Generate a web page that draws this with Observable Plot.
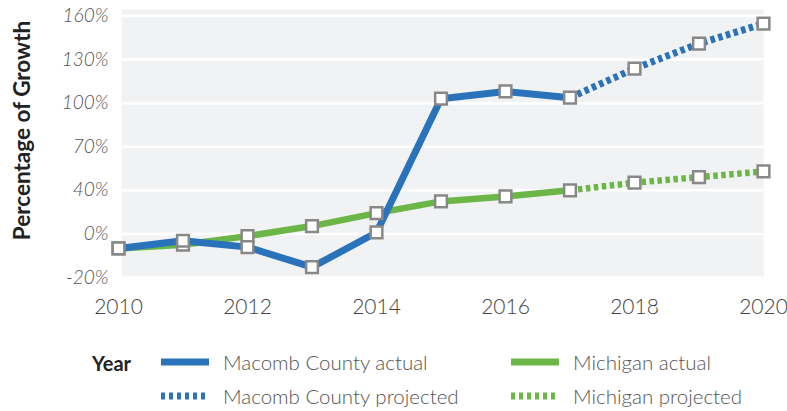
<!DOCTYPE html>
<html>
<head>
<meta charset="utf-8">
<script src="https://cdn.jsdelivr.net/npm/d3@7"></script>
<script src="https://cdn.jsdelivr.net/npm/@observablehq/plot@0.6"></script>
<style>
  html, body { margin: 0; padding: 0; background: #fff; }
  #wrap { position: relative; width: 787px; height: 411px; font-family: Lato, "Noto Sans", sans-serif; }
  #chart svg { display: block; }
  .lg { position: absolute; font-size: 20.5px; line-height: 20px; color: #555; font-weight: 300; white-space: nowrap; }
  .lg-title { position: absolute; font-size: 20px; line-height: 20px; color: #222; font-weight: 700; }
  .sw { position: absolute; }
</style>
</head>
<body>
<div id="wrap">
  <div id="chart"></div>
  <div id="legend"></div>
</div>
<script>
const years = [2010, 2011, 2012, 2013, 2014, 2015, 2016, 2017, 2018, 2019, 2020];
const macomb = [0, 5.3, 0.9, -12.9, 11, 103.1, 108.1, 103.8, 123.8, 141, 154.8];
const michigan = [0, 2.6, 8.5, 15.4, 24.3, 32.4, 35.8, 40, 45.3, 49.1, 53];
const lastActualYear = 2017;
const yTickValues = [-20, 10, 40, 70, 100, 130, 160];
const yTickLabels = ["-20%", "0%", "40%", "70%", "100%", "130%", "160%"];
const xTickValues = [2010, 2012, 2014, 2016, 2018, 2020];
const seriesNames = ["Macomb County actual", "Macomb County projected", "Michigan actual", "Michigan projected"];
const legendTitle = "Year";
const yLabel = "Percentage of Growth";

const BLUE = "#2a73ba", GREEN = "#6cb648";

function rows(vals, actual) {
  return years.map((y, i) => ({year: y, value: vals[i]}))
    .filter(d => actual ? d.year <= lastActualYear : d.year >= lastActualYear);
}
const macA = rows(macomb, true), macP = rows(macomb, false);
const micA = rows(michigan, true), micP = rows(michigan, false);
const micAll = years.map((y, i) => ({year: y, value: michigan[i]}));
const macAll = years.map((y, i) => ({year: y, value: macomb[i]}));
const labelMap = new Map(yTickValues.map((v, i) => [v, yTickLabels[i]]));

const plot = Plot.plot({
  width: 787,
  height: 335,
  marginLeft: 121,
  marginRight: 24,
  marginTop: 9,
  marginBottom: 58,
  style: {fontFamily: "Lato, 'Noto Sans', sans-serif", background: "transparent"},
  x: {domain: [2010, 2020], insetLeft: -3},
  y: {domain: [-20, 164.5]},
  marks: [
    Plot.frame({fill: "#f1f2f4", stroke: null}),
    Plot.gridY(yTickValues, {stroke: "#fff", strokeOpacity: 1, strokeWidth: 2.5}),
    Plot.axisY(yTickValues, {tickSize: 0, tickPadding: 13, tickFormat: d => labelMap.get(d), fontSize: 19, fontStyle: "italic", fontWeight: 300, fill: "#555", label: null}),
    Plot.axisX(xTickValues, {tickSize: 0, tickPadding: 22, tickFormat: d => String(d), fontSize: 21, fontWeight: 300, fill: "#444", label: null}),
    Plot.text([yLabel], {frameAnchor: "left", text: d => d, rotate: -90, dx: -99, dy: -13, textAnchor: "middle", lineAnchor: "middle", fontSize: 22.5, fontWeight: 700, fill: "#222"}),
    Plot.line(micA, {x: "year", y: "value", stroke: GREEN, strokeWidth: 6.5}),
    Plot.line(micP, {x: "year", y: "value", stroke: GREEN, strokeWidth: 6.5, strokeDasharray: "4.5,3.5", strokeLinecap: "butt"}),
    Plot.line(macA, {x: "year", y: "value", stroke: BLUE, strokeWidth: 7}),
    Plot.line(macP, {x: "year", y: "value", stroke: BLUE, strokeWidth: 7, strokeDasharray: "4.5,3.5", strokeLinecap: "butt"}),
    Plot.dot(micAll, {x: "year", y: "value", symbol: "square", r: 6.6, fill: "#fff", stroke: "#888", strokeWidth: 2.5}),
    Plot.dot(macAll, {x: "year", y: "value", symbol: "square", r: 6.6, fill: "#fff", stroke: "#888", strokeWidth: 2.5})
  ]
});
document.getElementById("chart").appendChild(plot);

// Legend
const legend = document.getElementById("legend");
const items = [
  {name: seriesNames[0], color: BLUE, dash: null, sx: 161, tx: 223, cy: 362},
  {name: seriesNames[1], color: BLUE, dash: "4 4", sx: 161, tx: 223, cy: 396},
  {name: seriesNames[2], color: GREEN, dash: null, sx: 511, tx: 573, cy: 362},
  {name: seriesNames[3], color: GREEN, dash: "4 4", sx: 511, tx: 573, cy: 396}
];
const t = document.createElement("div");
t.className = "lg-title"; t.textContent = legendTitle;
t.style.left = "92px"; t.style.top = (363 - 10) + "px";
legend.appendChild(t);
for (const it of items) {
  const s = d3.create("svg").attr("class", "sw").attr("width", 48).attr("height", 10)
    .style("left", it.sx + "px").style("top", (it.cy - 5) + "px");
  s.append("line").attr("x1", 0).attr("x2", 48).attr("y1", 5).attr("y2", 5)
    .attr("stroke", it.color).attr("stroke-width", 7)
    .attr("stroke-dasharray", it.dash);
  legend.appendChild(s.node());
  const d = document.createElement("div");
  d.className = "lg"; d.textContent = it.name;
  d.style.left = it.tx + "px"; d.style.top = (it.cy - 10) + "px";
  legend.appendChild(d);
}
</script>
</body>
</html>
